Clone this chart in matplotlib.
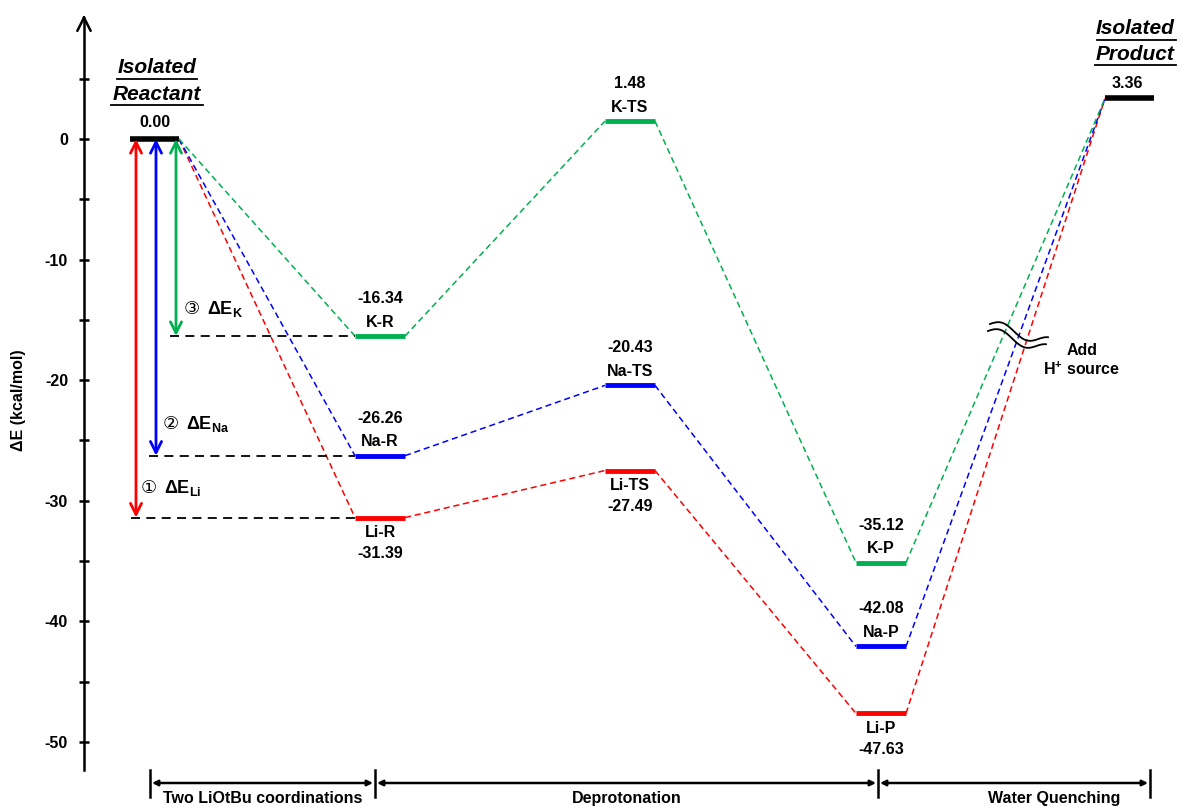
import numpy as np
import matplotlib
matplotlib.use("Agg")
import matplotlib.pyplot as plt

plt.rcParams['font.family'] = ['Liberation Sans', 'DejaVu Sans']
plt.rcParams['font.weight'] = 'bold'
plt.rcParams['mathtext.fontset'] = 'custom'
plt.rcParams['mathtext.rm'] = 'Liberation Sans:bold'
plt.rcParams['mathtext.bf'] = 'Liberation Sans:bold'
plt.rcParams['mathtext.it'] = 'Liberation Sans:bold'

# energies (kcal/mol)
stages = ['R', 'TS', 'P']
metals = ['Li', 'Na', 'K']
li_E = [-31.39, -27.49, -47.63]
na_E = [-26.26, -20.43, -42.08]
k_E = [-16.34, 1.48, -35.12]
reactant_E = 0.00
product_E = 3.36
yticks = [0, -10, -20, -30, -40, -50]
phases = ['Two LiOtBu coordinations', 'Deprotonation', 'Water Quenching']

colors = {'Li': '#FF0000', 'Na': '#0000FF', 'K': '#00B050'}
energies = {'Li': li_E, 'Na': na_E, 'K': k_E}

# horizontal spans of each level (x in pixel-like units)
react_x = (130, 179)
stage_x = [(355, 405), (605, 655), (856, 906)]
prod_x = (1105, 1154)

PX = 12.06  # pixels per kcal/mol
def ypx(p):
    return (139 - p) / PX

FS = 11.5

fig = plt.figure(figsize=(11.82, 8.07), dpi=100)
ax = fig.add_axes([0, 0, 1, 1])
ax.set_xlim(0, 1182)
ax.set_ylim(ypx(807), ypx(0))

# y axis
for s in ['top', 'right', 'bottom']:
    ax.spines[s].set_visible(False)
ax.spines['left'].set_position(('data', 84))
ax.spines['left'].set_bounds(ypx(770), ypx(20))
ax.spines['left'].set_linewidth(1.8)
ax.set_xticks([])
ax.set_yticks(yticks)
ax.set_yticklabels([str(t) for t in yticks], fontsize=FS, fontweight='bold')
ax.set_yticks(np.arange(-50, 10, 5), minor=True)
ax.tick_params(axis='y', which='both', direction='inout', length=7, width=1.8, pad=6)
ax.tick_params(axis='y', which='major', pad=8)
ax.annotate('', xy=(84, ypx(12)), xytext=(84, ypx(22)),
            arrowprops=dict(arrowstyle='->', lw=1.8, mutation_scale=24, color='k'))
ax.text(19, ypx(400), 'ΔE (kcal/mol)', rotation=90, ha='center', va='center',
        fontsize=FS, fontweight='bold')

# levels
ax.plot(react_x, [reactant_E] * 2, color='k', lw=4, solid_capstyle='butt')
ax.plot(prod_x, [product_E] * 2, color='k', lw=4, solid_capstyle='butt')
ax.annotate(f'{reactant_E:.2f}', (np.mean(react_x), reactant_E), xytext=(0, 12),
            textcoords='offset points', ha='center', va='center', fontsize=FS)
ax.annotate(f'{product_E:.2f}', (np.mean(prod_x) - 2, product_E), xytext=(0, 11),
            textcoords='offset points', ha='center', va='center', fontsize=FS)

for m in metals:
    E = energies[m]
    c = colors[m]
    xs = [react_x[1]]
    ys = [reactant_E]
    for (x0, x1), e, st in zip(stage_x, E, stages):
        ax.plot([x0, x1], [e, e], color=c, lw=3.5, solid_capstyle='butt')
        xs += [x0, x1]
        ys += [e, e]
        xc = (x0 + x1) / 2
        if m == 'Li':
            name_off, val_off = -11, -26
        else:
            name_off, val_off = 10, 27
        ax.annotate(f'{m}-{st}', (xc, e), xytext=(0, name_off), textcoords='offset points',
                    ha='center', va='center', fontsize=FS)
        ax.annotate(f'{e:.2f}', (xc, e), xytext=(0, val_off), textcoords='offset points',
                    ha='center', va='center', fontsize=FS)
    xs.append(prod_x[0])
    ys.append(product_E)
    # dashed connectors between consecutive levels
    for i in range(0, len(xs) - 1, 2):
        ax.plot(xs[i:i + 2], ys[i:i + 2], color=c, lw=1.1, ls=(0, (4, 2.5)))

# binding energy arrows
arrow_x = {'Li': 136, 'Na': 156, 'K': 176}
dash_start = {'Li': 131, 'Na': 149, 'K': 170}
circ = {'Li': '①', 'Na': '②', 'K': '③'}
lab_pos = {'Li': (141, ypx(488)), 'Na': (163, ypx(424)), 'K': (184, ypx(309))}
for m in metals:
    e = energies[m][0]
    ax.annotate('', xy=(arrow_x[m], e), xytext=(arrow_x[m], reactant_E),
                arrowprops=dict(arrowstyle='<->', lw=2, color=colors[m],
                                mutation_scale=20, shrinkA=0, shrinkB=0))
    ax.plot([dash_start[m], stage_x[0][0]], [e, e], color='k', lw=1.3, ls=(0, (5, 3.5)))
    x, y = lab_pos[m]
    ax.text(x, y, circ[m], ha='left', va='center', fontsize=13, fontweight='normal',
            family=['DejaVu Sans'])
    ax.text(x + 23, y, r'$\mathbf{\Delta E}_{\mathbf{%s}}$' % m, ha='left', va='center',
            fontsize=13)

# titles of isolated species
for x, y, s in [(157, 68, 'Isolated'), (157, 95, 'Reactant'),
                (1135, 29, 'Isolated'), (1135, 55, 'Product')]:
    ax.text(x, ypx(y), s, ha='center', va='center', fontsize=15,
            fontweight='bold', style='italic')
for x0, x1, y in [(117, 197, 79), (111, 203, 105), (1097, 1176, 40), (1095, 1176, 65)]:
    ax.plot([x0, x1], [ypx(y), ypx(y)], color='k', lw=1.3)

# broken-path wave marks
wx = np.linspace(0, 1, 80)
for x0, y0 in [(990, 324), (988, 331)]:
    xx = x0 + 58 * wx
    yy = y0 + 18 * wx - 5 * np.sin(2 * np.pi * wx * 1.2)
    ax.plot(xx, ypx(yy), color='k', lw=1.3)
ax.text(1082, ypx(351), 'Add', ha='center', va='center', fontsize=FS)
ax.text(1082, ypx(369), r'H$^{+}$ source', ha='center', va='center', fontsize=FS)

# reaction phase brackets
bx = [150, 375, 878, 1150]
yb = ypx(783)
for x in bx:
    ax.plot([x, x], [ypx(770), ypx(797)], color='k', lw=1.8)
for i, p in enumerate(phases):
    ax.annotate('', xy=(bx[i + 1] - 2, yb), xytext=(bx[i] + 2, yb),
                arrowprops=dict(arrowstyle='<|-|>', lw=1.8, color='k',
                                mutation_scale=8, shrinkA=0, shrinkB=0))
    ax.text((bx[i] + bx[i + 1]) / 2 + (40 if i == 2 else 0),
            ypx(799), p, ha='center', va='center', fontsize=FS)

fig.savefig('out.png', dpi=100)
